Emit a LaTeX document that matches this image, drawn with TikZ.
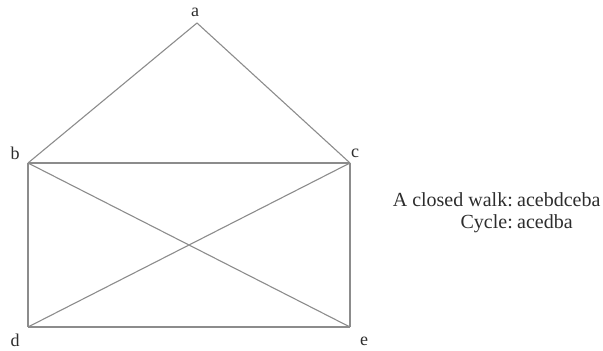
\documentclass[tikz,border=0pt]{standalone}
\usepackage{fontspec}
\setmainfont{Liberation Serif}
\definecolor{edgegray}{RGB}{140,140,140}
\definecolor{txtgray}{RGB}{45,45,45}
\begin{document}
\begin{tikzpicture}[x=1pt,y=-1pt,
  vtx/.style={inner sep=0pt,minimum size=0pt},
  lbl/.style={inner sep=0pt,text=txtgray,font=\fontsize{18}{20}\selectfont},
  captxt/.style={inner sep=0pt,text=txtgray,font=\fontsize{20}{22}\selectfont},
  edgeline/.style={draw=edgegray,line width=1.1pt}]
\useasboundingbox (0,0) rectangle (603,351);
\coordinate (a) at (197,23);
\coordinate (b) at (28,163);
\coordinate (c) at (350,163);
\coordinate (d) at (28,327);
\coordinate (e) at (350,327);
\node[lbl] (la) at (195,12) {a};
\node[lbl] (lb) at (15,153) {b};
\node[lbl] (lc) at (355,153) {c};
\node[lbl] (ld) at (15,340) {d};
\node[lbl] (le) at (364,341) {e};
\draw[edgeline] (a) -- (b);
\draw[edgeline] (a) -- (c);
\draw[edgeline] (b) -- (c);
\draw[edgeline] (b) -- (d);
\draw[edgeline] (c) -- (e);
\draw[edgeline] (d) -- (e);
\draw[edgeline] (b) -- (e);
\draw[edgeline] (d) -- (c);
\node[captxt,anchor=base east] (w1) at (513,206) {A closed walk:};
\node[captxt,anchor=base west] (w2) at (517,206) {acebdceba};
\node[captxt,anchor=base east] (c1) at (513,228) {Cycle:};
\node[captxt,anchor=base west] (c2) at (517,228) {acedba};
\end{tikzpicture}
\end{document}
